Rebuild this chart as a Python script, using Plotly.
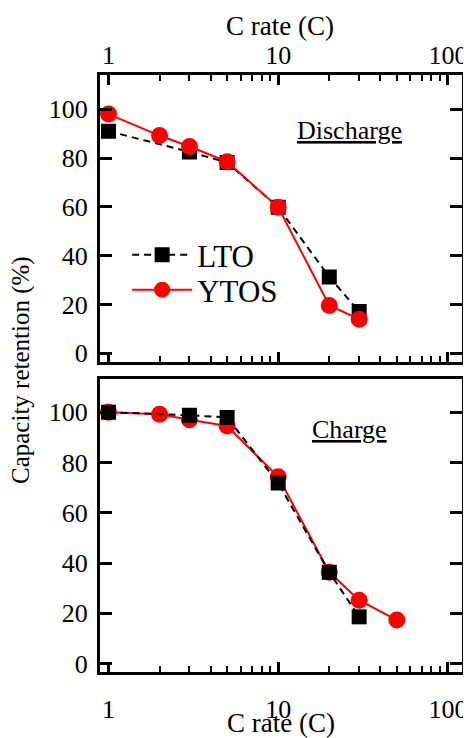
import plotly.graph_objects as go

# ---- data ----
lto_rate = [1, 3, 5, 10, 20, 30]
lto_discharge = [91, 82.5, 78.2, 59.8, 31.3, 17.1]
lto_charge = [100, 98.8, 97.9, 71.8, 36.3, 18.6]

ytos_rate_dis = [1, 2, 3, 5, 10, 20, 30]
ytos_discharge = [98, 89.2, 84.7, 78.5, 59.8, 19.6, 14]
ytos_rate_ch = [1, 2, 3, 5, 10, 20, 30, 50]
ytos_charge = [100, 99.2, 97, 94.5, 74.3, 36.3, 25.2, 17.3]

x_tickvals = [1, 10, 100]
x_ticktext = ["1", "10", "100"]
x_minor = [2, 3, 4, 5, 6, 7, 8, 9, 20, 30, 40, 50, 60, 70, 80, 90]
y_tickvals = [0, 20, 40, 60, 80, 100]

FONT = "'Liberation Serif', 'Times New Roman', Times, 'DejaVu Serif', serif"
RED = "#ff0000"

fig = go.Figure()

# top panel (discharge)
fig.add_trace(go.Scatter(x=lto_rate, y=lto_discharge, name="LTO", mode="lines+markers",
                         line=dict(color="black", width=2, dash="7px,5px"),
                         marker=dict(symbol="square", size=15, color="black"),
                         xaxis="x", yaxis="y", legend="legend"))
fig.add_trace(go.Scatter(x=ytos_rate_dis, y=ytos_discharge, name="YTOS", mode="lines+markers",
                         line=dict(color=RED, width=2),
                         marker=dict(symbol="circle", size=17, color=RED),
                         xaxis="x", yaxis="y", legend="legend2"))
# bottom panel (charge)
fig.add_trace(go.Scatter(x=ytos_rate_ch, y=ytos_charge, name="YTOS", mode="lines+markers",
                         line=dict(color=RED, width=2),
                         marker=dict(symbol="circle", size=17, color=RED),
                         xaxis="x2", yaxis="y2", showlegend=False))
fig.add_trace(go.Scatter(x=lto_rate, y=lto_charge, name="LTO", mode="lines+markers",
                         line=dict(color="black", width=2, dash="7px,5px"),
                         marker=dict(symbol="square", size=15, color="black"),
                         xaxis="x2", yaxis="y2", showlegend=False))

common_x = dict(type="log", range=[-0.05, 2.083], tickmode="array", tickvals=x_tickvals,
                ticktext=x_ticktext, ticks="inside", ticklen=10, tickwidth=2.5, tickcolor="black",
                showline=True, linewidth=3, linecolor="black", showgrid=False, zeroline=False,
                automargin=False,
                minor=dict(tickmode="array", tickvals=x_minor, ticks="inside", ticklen=6,
                           tickwidth=1.5, tickcolor="black", showgrid=False),
                tickfont=dict(family=FONT, size=26, color="black"))
common_y = dict(tickmode="array", tickvals=y_tickvals, ticks="inside", ticklen=12, tickwidth=2.5,
                tickcolor="black", showline=True, linewidth=3, linecolor="black", mirror="ticks",
                showgrid=False, zeroline=False, ticklabelstandoff=4, automargin=False,
                tickfont=dict(family=FONT, size=26, color="black"))

legend_common = dict(x=0.075, xanchor="left", yanchor="middle", xref="paper", yref="paper",
                     bgcolor="rgba(0,0,0,0)", font=dict(family=FONT, size=31, color="black"),
                     itemwidth=60)

# page body has an 8px margin: figure is 8px smaller on each dimension
fig.update_layout(
    width=463, height=730,
    margin=dict(l=92, r=8.5, t=67, b=66, autoexpand=False),
    paper_bgcolor="white", plot_bgcolor="white",
    font=dict(family=FONT, color="black"),
    xaxis=dict(**common_x, anchor="y", side="top", mirror="ticks", ticklabelstandoff=-2),
    yaxis=dict(**common_y, domain=[0.5198, 1.0], range=[-3.4, 114]),
    xaxis2=dict(**common_x, anchor="y2", side="bottom", mirror=True, ticklabelstandoff=12,
                title=dict(text="C rate (C)", font=dict(family=FONT, size=27), standoff=13)),
    yaxis2=dict(**common_y, domain=[0.0, 0.4903], range=[-3.35, 113.1]),
    showlegend=True,
    legend=dict(**legend_common, y=1 - (255 - 75) / 597),
    legend2=dict(**legend_common, y=1 - (290 - 75) / 597),
    annotations=[
        dict(text="C rate (C)", xref="x domain", yref="paper", x=(280 - 100) / 362.5,
             y=1 + (75 - 26) / 597, xanchor="center", yanchor="middle", showarrow=False,
             font=dict(family=FONT, size=27, color="black")),
        dict(text="<u>Discharge</u>", xref="x domain", yref="y domain", x=0.69, y=0.805,
             xanchor="center", yanchor="middle",
             showarrow=False, font=dict(family=FONT, size=26, color="black")),
        dict(text="<u>Charge</u>", xref="x2 domain", yref="y2 domain", x=0.69, y=0.83,
             xanchor="center", yanchor="middle",
             showarrow=False, font=dict(family=FONT, size=26, color="black")),
        dict(text="Capacity retention (%)", xref="paper", yref="paper",
             x=(21 - 100) / 362.5, y=0.506, textangle=-90, showarrow=False,
             xanchor="center", yanchor="middle",
             font=dict(family=FONT, size=25, color="black")),
    ],
)

fig.write_html("out.html")
